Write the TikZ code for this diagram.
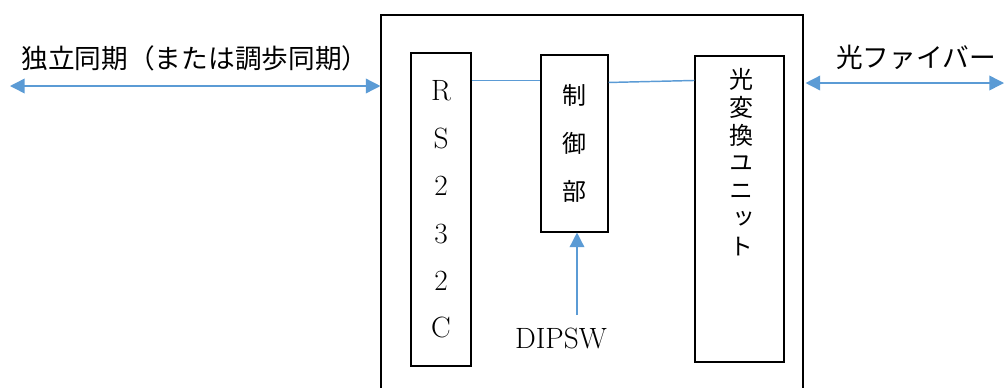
\documentclass[tikz,border=0pt]{standalone}
\usepackage{fontspec}
\usepackage{tikz}
\usetikzlibrary{arrows.meta,calc,positioning}
\newfontfamily\jpfont{Noto Sans CJK JP}
\newfontfamily\jpvert[RawFeature=+vert]{Noto Sans CJK JP}
\definecolor{linkblue}{HTML}{5B9BD5}
\tikzset{>={Triangle[length=11pt,width=11pt]}}
\tikzset{
    unit/.style={rectangle,draw,line width=0.8pt,inner sep=0pt,align=center},
    outerbox/.style={rectangle,draw,line width=0.8pt,minimum width=316.5pt,minimum height=292.5pt},
    link/.style={draw=linkblue,line width=1.1pt},
    biarrow/.style={link,arrows={<->},color=linkblue},
    sigarrow/.style={link,arrows={->},color=linkblue},
    jplabel/.style={inner sep=0pt,font=\jpfont\fontsize{20}{24}\selectfont},
}

\begin{document}
\begin{tikzpicture}[x=0.75pt,y=-0.75pt]
		\useasboundingbox (0,0) rectangle (1006,387);
		\node[outerbox] (dev) at (592,210) {};
		\node[unit,minimum width=45pt,minimum height=234.75pt,font=\fontsize{22}{35.6}\selectfont] (rs) at (441,209.5) {R\\S\\2\\3\\2\\C};
		\node[unit,minimum width=50.25pt,minimum height=132.75pt,font=\jpfont\fontsize{18}{36}\selectfont] (ctl) at (574.5,143.5) {制\\御\\部};
		\node[unit,minimum width=66.75pt,minimum height=229.5pt] (opt) at (739.5,209) {};
		\node[inner sep=0pt,align=center,font=\jpvert\fontsize{18}{20.8}\selectfont] (opttxt) at (741,162) {光\\変\\換\\ユ\\ニ\\ッ\\ト};
		\node[inner sep=0pt,font=\fontsize{22}{26}\selectfont] (dip) at (561,338) {DIPSW};
		\node[jplabel] (synclabel) at (195,58) {独立同期（または調歩同期）};
		\node[jplabel] (fiberlabel) at (916,57) {光ファイバー};

		\coordinate (lend) at (10,86);
		\coordinate (rend) at (1004,83);
		\coordinate (dsw) at (577,315);

		\draw[biarrow] (lend) -- (dev.west |- lend);
		\draw[biarrow] ($(dev.east |- rend)+(2,0)$) -- (rend);
		\draw[link] ($(rs.north east)+(0,28)$) -- ($(ctl.north west)+(0,26)$);
		\draw[link] ($(ctl.north east)+(0,28)$) -- ($(opt.north west)+(0,25)$);
		\draw[sigarrow] (dsw) -- (ctl.south -| dsw);
	\end{tikzpicture}
\end{document}
